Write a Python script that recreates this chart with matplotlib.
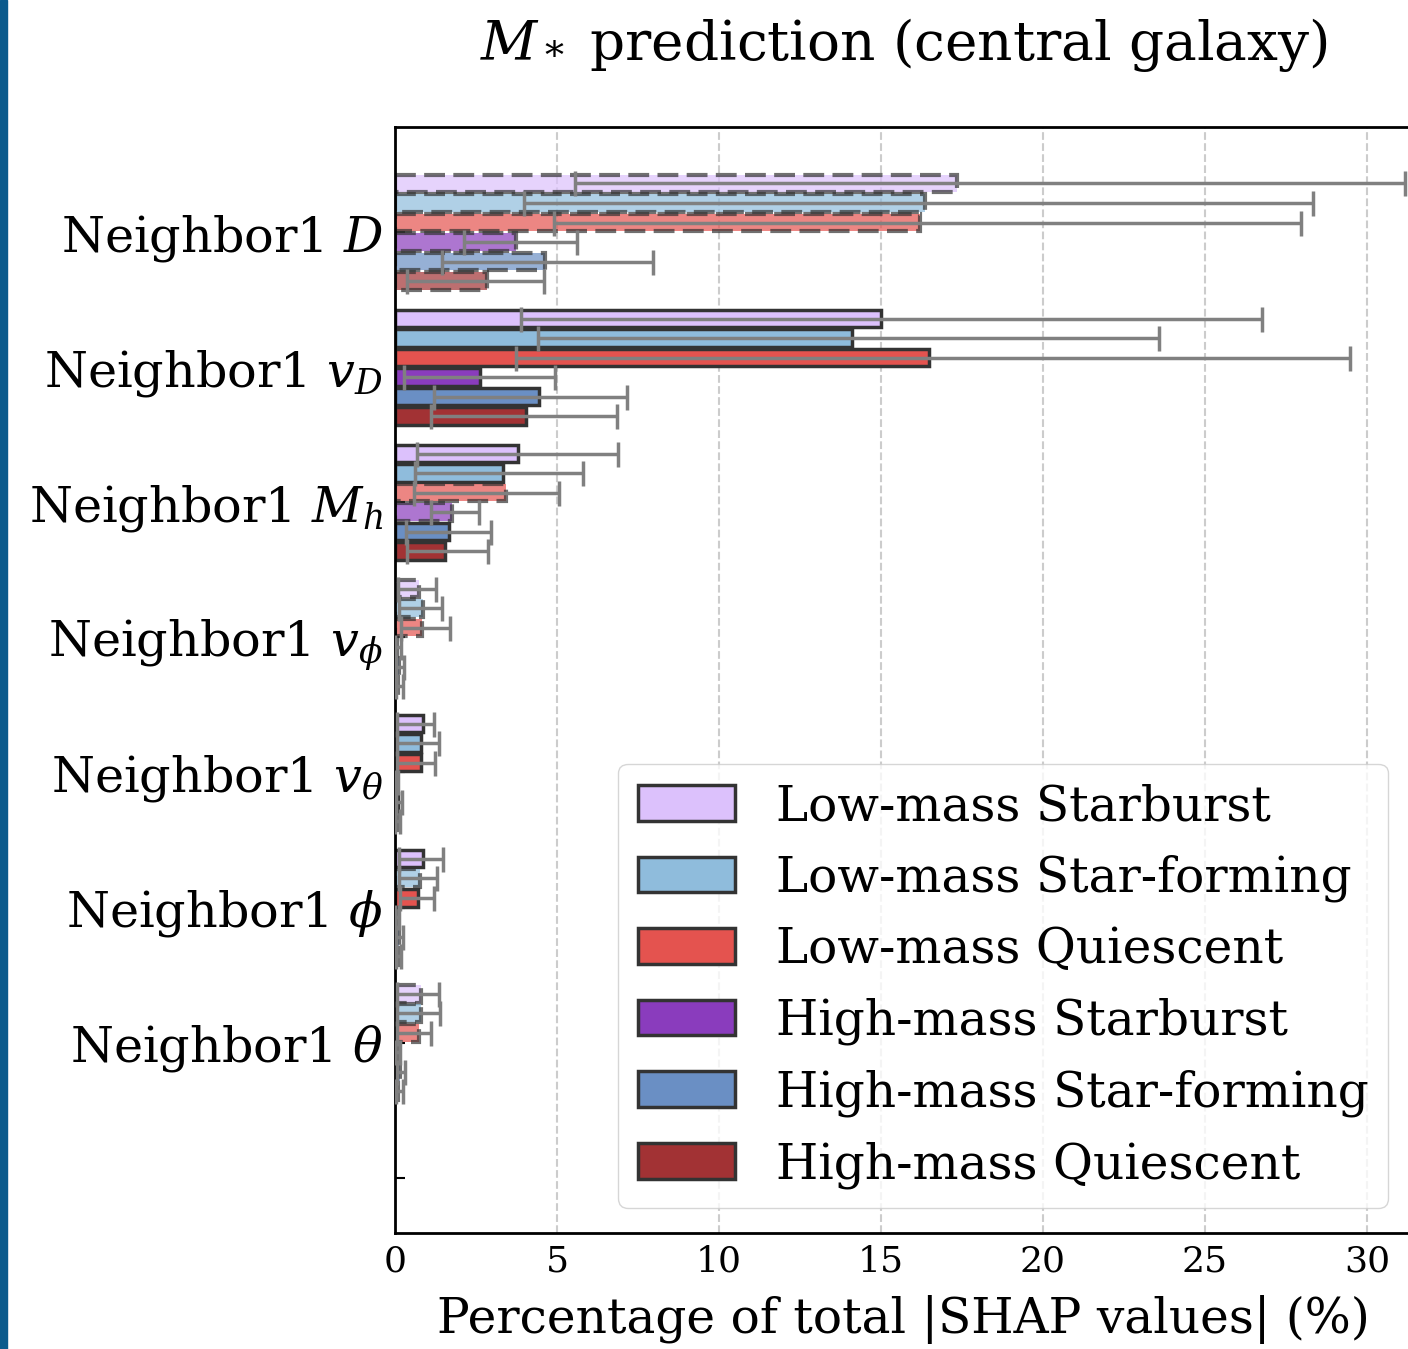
import numpy as np
import matplotlib.pyplot as plt
from matplotlib.patches import Patch, Rectangle

plt.rcParams['font.family'] = 'DejaVu Serif'
plt.rcParams['mathtext.fontset'] = 'dejavuserif'

features = ['Neighbor1 $D$', 'Neighbor1 $v_D$', 'Neighbor1 $M_h$', 'Neighbor1 $v_\\phi$',
            'Neighbor1 $v_\\theta$', 'Neighbor1 $\\phi$', 'Neighbor1 $\\theta$']
labels = ['Low-mass Starburst', 'Low-mass Star-forming', 'Low-mass Quiescent',
          'High-mass Starburst', 'High-mass Star-forming', 'High-mass Quiescent']
colors = ['#dcc1fc', '#8fbcdc', '#e4534f', '#8a3cbd', '#6a8fc4', '#a23234']

# mean share of |SHAP| and the lower / upper ends of the spread, per feature
lm_sb = [17.35, 15.00, 3.80, 0.75, 0.88, 0.88, 0.79]
lm_sb_lo = [5.55, 3.90, 0.69, 0.10, 0.07, 0.13, 0.07]
lm_sb_hi = [31.17, 26.75, 6.88, 1.27, 1.22, 1.49, 1.37]
lm_sb_weak = [1, 0, 0, 1, 0, 0, 1]

lm_sf = [16.37, 14.10, 3.34, 0.86, 0.79, 0.77, 0.79]
lm_sf_lo = [3.99, 4.41, 0.62, 0.13, 0.07, 0.13, 0.07]
lm_sf_hi = [28.34, 23.58, 5.80, 1.44, 1.36, 1.29, 1.39]
lm_sf_weak = [1, 0, 0, 1, 0, 1, 1]

lm_q = [16.20, 16.47, 3.42, 0.85, 0.81, 0.71, 0.75]
lm_q_lo = [4.91, 3.75, 0.59, 0.18, 0.07, 0.15, 0.07]
lm_q_hi = [27.95, 29.47, 5.07, 1.70, 1.23, 1.22, 1.10]
lm_q_weak = [1, 0, 1, 1, 0, 0, 1]

hm_sb = [3.73, 2.62, 1.77, 0.06, 0.03, 0.05, 0.06]
hm_sb_lo = [2.13, 0.27, 1.11, 0.01, 0.01, 0.01, 0.01]
hm_sb_hi = [5.63, 4.95, 2.58, 0.18, 0.10, 0.12, 0.15]
hm_sb_weak = [1, 0, 1, 1, 1, 1, 1]

hm_sf = [4.64, 4.46, 1.66, 0.12, 0.10, 0.12, 0.15]
hm_sf_lo = [1.46, 1.21, 0.34, 0.04, 0.03, 0.04, 0.05]
hm_sf_hi = [7.96, 7.17, 2.97, 0.28, 0.22, 0.25, 0.30]
hm_sf_weak = [1, 0, 0, 1, 0, 1, 1]

hm_q = [2.84, 4.04, 1.56, 0.10, 0.05, 0.08, 0.10]
hm_q_lo = [0.38, 1.10, 0.38, 0.03, 0.01, 0.02, 0.03]
hm_q_hi = [4.59, 6.86, 2.87, 0.26, 0.15, 0.20, 0.25]
hm_q_weak = [1, 0, 0, 1, 1, 1, 1]

vals = [lm_sb, lm_sf, lm_q, hm_sb, hm_sf, hm_q]
lows = [lm_sb_lo, lm_sf_lo, lm_q_lo, hm_sb_lo, hm_sf_lo, hm_q_lo]
highs = [lm_sb_hi, lm_sf_hi, lm_q_hi, hm_sb_hi, hm_sf_hi, hm_q_hi]
weak = [lm_sb_weak, lm_sf_weak, lm_q_weak, hm_sb_weak, hm_sf_weak, hm_q_weak]

fig = plt.figure(figsize=(14.08, 13.49), dpi=100)
ax = fig.add_axes([0.2805, 0.086, 0.723, 0.8199])

pos = np.arange(len(features))
step, h = 0.1446, 0.13
for k in range(len(labels)):
    y = pos + (k - 2.5) * step
    v = np.array(vals[k])
    bars = ax.barh(y, v, height=h, color=colors[k], edgecolor='#333333', linewidth=2.5, zorder=2)
    for b, w in zip(bars, weak[k]):
        if w:
            # less robust features: faded fill, dashed outline
            b.set_alpha(0.7)
            b.set_linewidth(3)
            b.set_linestyle((0, (5, 2)))
    xerr = [v - np.array(lows[k]), np.array(highs[k]) - v]
    ax.errorbar(v, y, xerr=xerr, fmt='none', ecolor='#808080', elinewidth=2.5,
                capsize=9, capthick=2.5, zorder=3)

ax.set_yticks(np.arange(len(features) + 1))
ax.set_yticklabels(features + [''], fontsize=35.5)
ax.set_ylim(7.41, -0.78)
ax.set_xlim(0, 31.42)
ax.set_xticks([0, 5, 10, 15, 20, 25, 30])
ax.tick_params(axis='y', direction='in', length=7, width=1.5, pad=8)
ax.tick_params(axis='x', length=0, pad=8, labelsize=26)
for s in ax.spines.values():
    s.set_linewidth(2)
ax.set_axisbelow(True)
ax.grid(axis='x', linestyle='--', color='#cccccc', linewidth=1.5)

ax.set_xlabel('Percentage of total |SHAP values| (%)', fontsize=35, labelpad=12)
ax.set_title('$M_*$ prediction (central galaxy)', fontsize=39.5, pad=48)

handles = [Patch(facecolor=c, edgecolor='#333333', linewidth=2.5) for c in colors]
ax.legend(handles, labels, loc='lower right', bbox_to_anchor=(0.9755, 0.0226),
          borderaxespad=0, fontsize=35, handlelength=2.0, handleheight=0.75,
          handletextpad=0.84, labelspacing=0.5, framealpha=0.8, fancybox=True)

fig.patches.append(Rectangle((0, 0), 7 / 1408, 1, transform=fig.transFigure,
                             color='#0b5a8c', zorder=5))

plt.savefig('out.png', dpi=100)
